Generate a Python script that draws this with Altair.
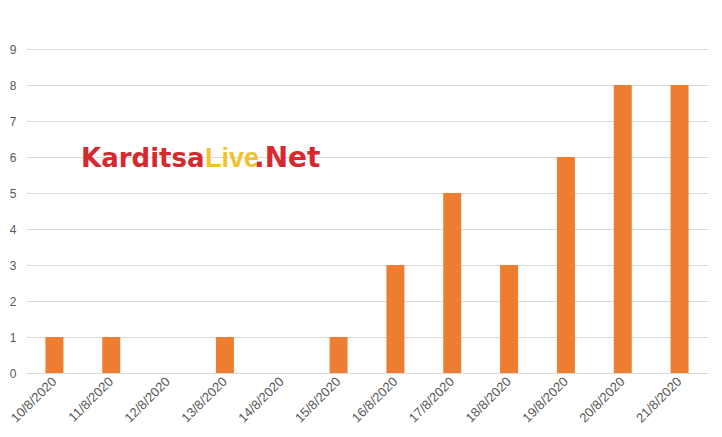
import altair as alt
import pandas as pd

dates = ["10/8/2020", "11/8/2020", "12/8/2020", "13/8/2020", "14/8/2020", "15/8/2020",
         "16/8/2020", "17/8/2020", "18/8/2020", "19/8/2020", "20/8/2020", "21/8/2020"]
cases = [1, 1, 0, 1, 0, 1, 3, 5, 3, 6, 8, 8]

logo_parts = ["Karditsa", "Live", ".Net"]
logo_colors = ["#D42A2F", "#F2C12E", "#D42A2F"]
logo_fonts = ["DejaVu Sans", "Liberation Sans", "DejaVu Sans"]
logo_sizes = [26, 27, 28]
logo_x = [55, 179, 228]

df = pd.DataFrame({"date": dates, "cases": cases})

bars = alt.Chart(df).mark_bar(color="#ED7D31", size=18).encode(
    x=alt.X("date:N", sort=dates, title=None,
            scale=alt.Scale(paddingInner=0, paddingOuter=0),
            axis=alt.Axis(labelAngle=-45, labelAlign="right", labelBaseline="middle",
                          labelFontSize=13, labelColor="#595959", labelFont="Liberation Sans",
                          domainColor="#D9D9D9", ticks=False, labelPadding=6, grid=False)),
    y=alt.Y("cases:Q", title=None, scale=alt.Scale(domain=[0, 9], nice=False),
            axis=alt.Axis(values=list(range(10)), domain=False, ticks=False,
                          labelFontSize=12, labelColor="#595959", labelFont="Liberation Sans",
                          labelPadding=10, gridColor="#D9D9D9")),
)

layers = [bars]
for part, col, fnt, sz, xv in zip(logo_parts, logo_colors, logo_fonts, logo_sizes, logo_x):
    layers.append(
        alt.Chart(pd.DataFrame({"t": [part]})).mark_text(
            font=fnt, fontWeight="bold", fontSize=sz, align="left",
            baseline="alphabetic", color=col
        ).encode(text="t:N", x=alt.value(xv), y=alt.value(118))
    )

chart = alt.layer(*layers).properties(
    width=682, height=324,
    autosize=alt.AutoSizeParams(type="none"),
    padding={"left": 18, "top": 41, "right": 6, "bottom": 56},
    background="white",
).configure_view(stroke=None)

chart.save("out.html", embed_options={"renderer": "svg", "actions": False})
